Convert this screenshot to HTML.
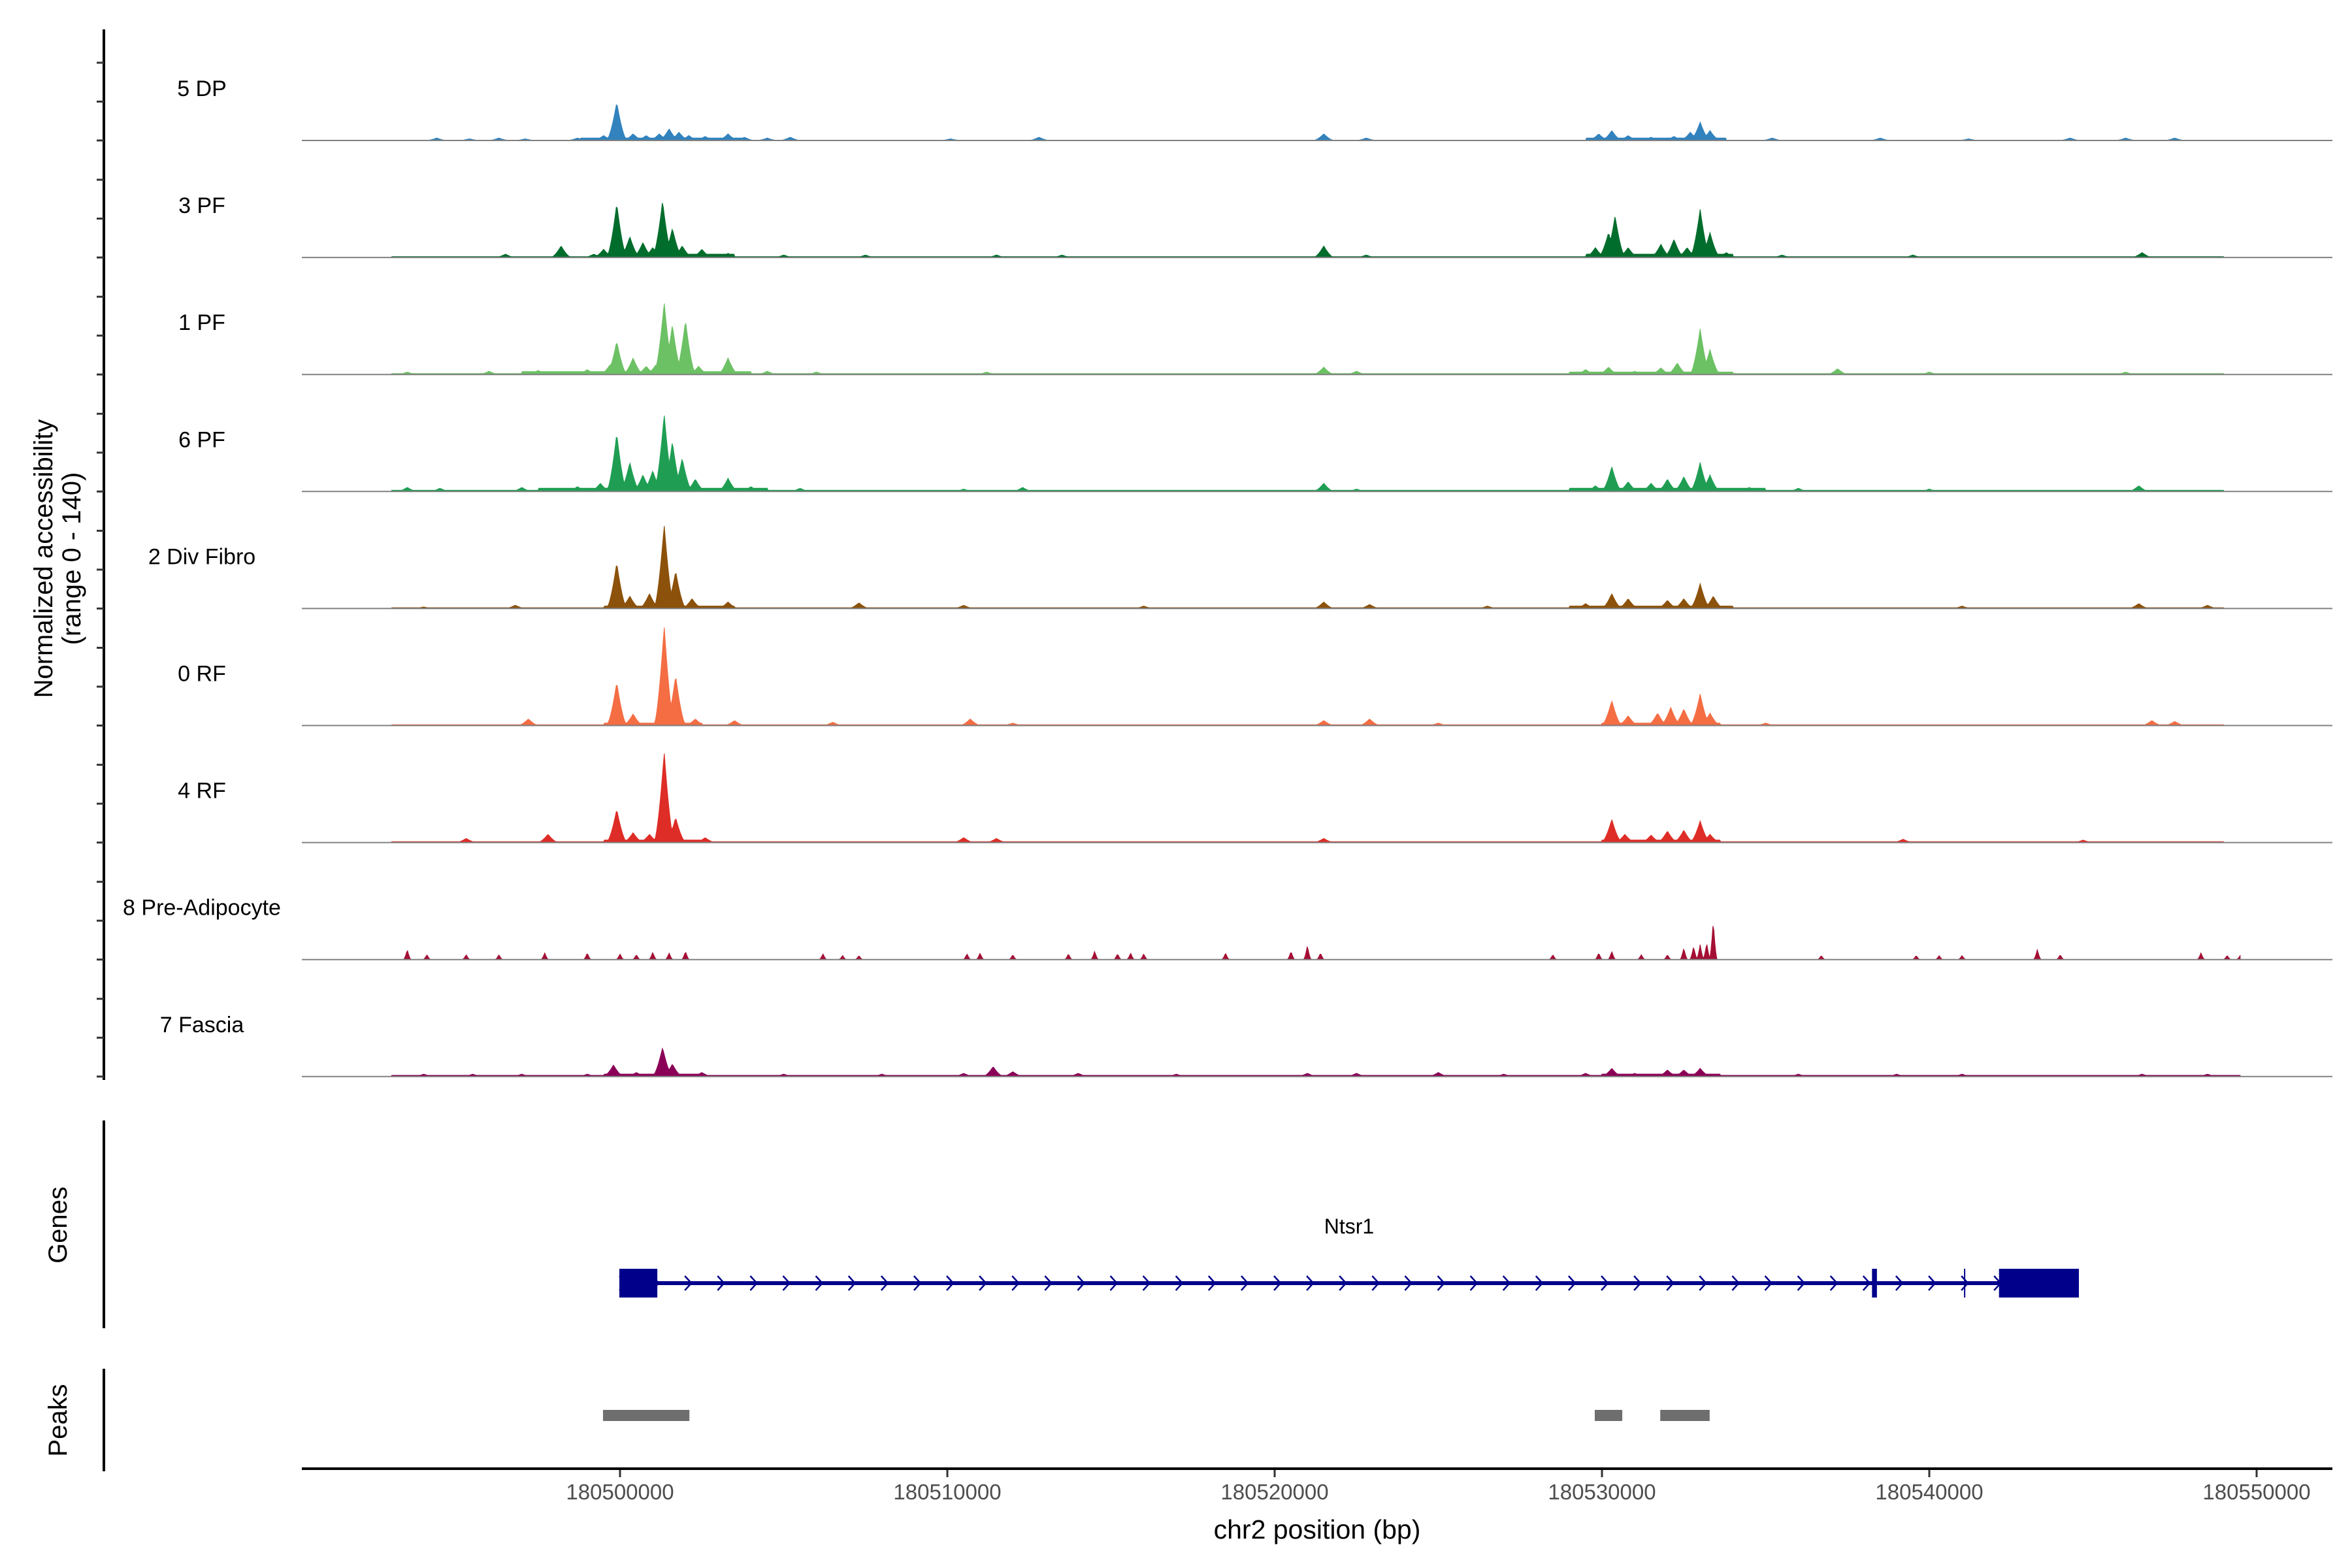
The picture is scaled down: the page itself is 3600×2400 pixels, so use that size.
<!DOCTYPE html>
<html><head><meta charset="utf-8"><style>
html,body{margin:0;padding:0;background:#fff;}
svg{display:block;font-family:"Liberation Sans",sans-serif;}
</style></head><body>
<svg id="chart" width="3600" height="2400" viewBox="0 0 3600 2400" xmlns="http://www.w3.org/2000/svg"></svg>
<script>
// ---- data ----
const trackNames = ["5 DP","3 PF","1 PF","6 PF","2 Div Fibro","0 RF","4 RF","8 Pre-Adipocyte","7 Fascia"];
const trackColors = ["#3182bd","#006d2c","#6cc164","#1f9e53","#8c510a","#f46d43","#de2d26","#a50f35","#8b0057"];
// peaks: [kb offset from 180500000, normalized value]
const peaks5DP = [[-5.6,3],[-4.6,2],[-3.7,3],[-2.9,2],[-1.3,3],[-0.5,6],[-0.1,46],[0.4,8],[0.8,6],[1.2,8],[1.5,14],[1.8,10],[2.1,6],[2.6,5],[3.3,8],[3.8,4],[4.5,3],[5.2,4],[10.1,2],[12.8,4],[21.5,8],[22.8,3],[29.9,8],[30.3,12],[30.8,6],[31.5,4],[32.2,5],[32.7,10],[33.0,22],[33.3,12],[35.2,3],[38.5,3],[41.2,2],[44.3,3],[46.0,3],[47.5,3]];
const peaks3PF = [[-3.5,4],[-1.8,14],[-0.8,4],[-0.5,10],[-0.1,65],[0.3,25],[0.7,18],[1.0,12],[1.3,68],[1.6,35],[1.9,14],[2.5,10],[3.3,5],[5.0,3],[7.5,3],[11.5,3],[13.5,3],[21.5,14],[22.8,3],[29.8,12],[30.2,30],[30.4,50],[30.8,12],[31.8,16],[32.2,22],[32.6,12],[33.0,58],[33.3,30],[33.8,6],[35.5,3],[39.5,3],[46.5,6]];
const peaks1PF = [[-6.5,3],[-4.0,4],[-2.5,5],[-1.0,6],[-0.3,12],[-0.1,40],[0.4,20],[0.8,10],[1.1,12],[1.35,87],[1.6,60],[2.0,65],[2.4,10],[3.3,20],[4.5,4],[6.0,3],[11.2,3],[21.5,9],[22.5,4],[29.5,6],[30.2,9],[31.0,4],[31.8,8],[32.3,14],[33.0,55],[33.3,30],[37.2,7],[40,3],[46,3]];
const peaks6PF = [[-6.5,5],[-5.5,4],[-3.0,5],[-1.3,6],[-0.6,10],[-0.1,70],[0.3,35],[0.7,20],[1.0,25],[1.35,93],[1.6,60],[1.9,40],[2.3,15],[3.3,16],[4.0,6],[5.5,4],[10.5,3],[12.3,5],[21.5,10],[22.5,3],[29.8,7],[30.3,30],[30.8,12],[31.5,10],[32.0,15],[32.5,18],[33.0,35],[33.3,20],[34.5,5],[36.0,4],[40.0,3],[46.4,7]];
const peaksDiv = [[-6,2],[-3.2,4],[-0.1,55],[0.3,15],[0.9,18],[1.35,101],[1.7,45],[2.2,12],[3.3,8],[7.3,7],[10.5,4],[16,3],[21.5,8],[22.9,5],[26.5,3],[29.5,6],[30.3,18],[30.8,12],[32.0,10],[32.5,12],[33.0,30],[33.4,15],[41.0,3],[46.4,6],[48.5,4]];
const peaks0RF = [[-2.8,8],[-0.1,52],[0.4,14],[1.35,120],[1.7,60],[2.3,8],[3.5,6],[6.5,4],[10.7,8],[12,3],[21.5,6],[22.9,8],[25,3],[30.3,30],[30.8,12],[31.7,15],[32.1,22],[32.5,20],[33.0,38],[33.3,15],[35,3],[46.8,6],[47.5,5]];
const peaks4RF = [[-4.7,5],[-2.2,10],[-0.1,40],[0.4,12],[0.9,10],[1.35,109],[1.7,30],[2.6,6],[10.5,6],[11.5,5],[21.5,5],[30.3,28],[30.7,10],[31.5,9],[32.0,14],[32.5,15],[33.0,26],[33.3,10],[39.2,4],[44.7,3]];
const peaksPreAd = [[-6.5,12],[-5.9,6],[-4.7,6],[-3.7,6],[-2.3,8],[-1.0,8],[0,7],[0.5,6],[1.0,9],[1.5,8],[2.0,10],[6.2,7],[6.8,5],[7.3,5],[10.6,7],[11.0,8],[12.0,6],[13.7,7],[14.5,10],[15.2,7],[15.6,8],[16.0,7],[18.5,8],[20.5,10],[21.0,17],[21.4,8],[28.5,6],[29.9,8],[30.3,10],[31.2,6],[32.0,6],[32.5,14],[32.8,16],[33.0,18],[33.2,20],[33.4,47],[36.7,5],[39.6,5],[40.3,5],[41.0,5],[43.3,12],[44,6],[48.3,8],[49.1,5],[49.5,5]];
const peaksFascia = [[-6,3],[-4.5,3],[-3,3],[-1,3],[-0.2,14],[0.5,5],[1.3,35],[1.6,15],[2.5,5],[5,3],[8,3],[10.5,4],[11.4,12],[12,6],[14,4],[17,3],[21,4],[22.5,4],[25,5],[27,3],[29.5,4],[30.3,10],[31,4],[32.0,8],[32.5,8],[33.0,10],[36,3],[39,3],[41,3],[46.5,3],[48.5,3]];
// background level segments: [startKb, endKb, value]
const bg5DP = [[-1.2,3.8,3],[29.5,33.8,3]];
const bg3PF = [[-7,49,1],[-0.6,3.5,4],[29.5,34,4]];
const bg1PF = [[-7,49,1.2],[-3,4,3.5],[29,34,3]];
const bg6PF = [[-7,49,1.5],[-2.5,4.5,4],[29,35,4]];
const bgDiv = [[-7,49,1],[-0.5,3.5,3],[29,34,3]];
const bg0RF = [[-7,49,1],[-0.5,2.5,3],[30,33.6,3]];
const bg4RF = [[-7,49,1],[-0.5,2.5,3],[30,33.6,3]];
const bgPreAd = [];
const bgFascia = [[-7,49.5,1.5],[-0.5,2.5,3],[30,33.6,3]];
const trackPeaks = [peaks5DP,peaks3PF,peaks1PF,peaks6PF,peaksDiv,peaks0RF,peaks4RF,peaksPreAd,peaksFascia];
const trackBg = [bg5DP,bg3PF,bg1PF,bg6PF,bgDiv,bg0RF,bg4RF,bgPreAd,bgFascia];
const trackExtent = [[-7,49],[-7,49],[-7,49],[-7,49],[-7,49],[-7,49],[-7,49],[-7,49.5],[-7,49.5]];
const xTicks = [180500000,180510000,180520000,180530000,180540000,180550000];
const geneExons = [[-0.02,1.14],[38.25,38.4],[42.13,44.57]];
const geneSpan = [-0.02,44.57];
const regionPeaks = [[-0.52,2.12],[29.78,30.62],[31.78,33.29]];

// ---- scales ----
const NS="http://www.w3.org/2000/svg";
const svg=document.getElementById('chart');
const X0=949, PX_PER_KB=50.1;
function xs(kb){return X0+kb*PX_PER_KB;}
const LEFT=462, RIGHT=3570;
const BASE0=215, STEP=179.1, YMAX=140, TRACK_H=178;
function ys(i,v){return BASE0+i*STEP - v/YMAX*TRACK_H;}
function mk(tag,attrs,parent){const e=document.createElementNS(NS,tag);for(const k in attrs)e.setAttribute(k,attrs[k]);(parent||svg).appendChild(e);return e;}

let a=mk('line',{x1:159,y1:45,x2:159,y2:1653,stroke:'#000','stroke-width':4});



trackNames.forEach((name,i)=>{
  const base=BASE0+i*STEP;
  const g=mk('g',{});
  
  
  for(let k=0;k<3;k++){
    const t=mk('line',{x1:148,x2:159,y1:base-k*59.5,y2:base-k*59.5,stroke:'#333','stroke-width':3},g);
    
    
  }
  const w = i===7?0.12:0.32;
  const pk=trackPeaks[i], bgs=trackBg[i];
  const ext=trackExtent[i];
  let d='M'+xs(ext[0]).toFixed(1)+','+base;
  for(let px=xs(ext[0]);px<=xs(ext[1]);px+=1.5){
    const kb=(px-X0)/PX_PER_KB;
    let v=0;
    for(const b of bgs){ if(kb>=b[0]&&kb<=b[1]) v=Math.max(v,b[2]); }
    for(const p of pk){const f=1-Math.abs(kb-p[0])/w; if(f>0) v=Math.max(v,p[1]*Math.pow(f,1.6));}
    d+=' L'+px.toFixed(1)+','+ys(i,v).toFixed(1);
  }
  d+=' L'+xs(ext[1]).toFixed(1)+','+base+' Z';
  const area=mk('path',{d:d,fill:trackColors[i],stroke:trackColors[i],'stroke-width':1},g);
  
  
  const bl=mk('line',{x1:LEFT,x2:RIGHT,y1:base,y2:base,stroke:'#808080','stroke-width':2},g);
  
  
  const lab=mk('text',{x:309,y:base-68,'text-anchor':'middle','font-size':34,fill:'#000'},g);
  lab.textContent=name;
  
  
});

let yt=mk('text',{transform:'translate(80,855) rotate(-90)','text-anchor':'middle','font-size':40,fill:'#000'});
yt.textContent='Normalized accessibility';


let yt2=mk('text',{transform:'translate(123,855) rotate(-90)','text-anchor':'middle','font-size':40,fill:'#000'});
yt2.textContent='(range 0 - 140)';



let ga=mk('line',{x1:159,y1:1715,x2:159,y2:2033,stroke:'#000','stroke-width':4});


let gt=mk('text',{transform:'translate(102,1875) rotate(-90)','text-anchor':'middle','font-size':40,fill:'#000'});
gt.textContent='Genes';


const GY=1964;
const gg=mk('g',{});


mk('line',{x1:xs(geneSpan[0]),x2:xs(geneSpan[1]),y1:GY,y2:GY,stroke:'#00008b','stroke-width':6},gg);
for(let kb=geneSpan[0]+0.1;kb<geneSpan[1]-2;kb+=1){
  const cx=xs(kb);
  const ch=mk('path',{d:`M${cx-5},${GY-11} L${cx+5},${GY} L${cx-5},${GY+11}`,fill:'none',stroke:'#00008b','stroke-width':2.5},gg);
  
  
}
geneExons.forEach(e=>{
  const r=mk('rect',{x:xs(e[0]),y:GY-22,width:Math.max(5,xs(e[1])-xs(e[0])),height:44,fill:'#00008b'},gg);
  
  
});
mk('line',{x1:xs(41.08),x2:xs(41.08),y1:GY-22,y2:GY+22,stroke:'#00008b','stroke-width':2},gg);
let gl=mk('text',{x:2065,y:1888,'text-anchor':'middle','font-size':32,fill:'#000'},gg);
gl.textContent='Ntsr1';



let pa=mk('line',{x1:159,y1:2095,x2:159,y2:2252,stroke:'#000','stroke-width':4});


let pt=mk('text',{transform:'translate(102,2174) rotate(-90)','text-anchor':'middle','font-size':40,fill:'#000'});
pt.textContent='Peaks';


regionPeaks.forEach(p=>{
  const r=mk('rect',{x:xs(p[0]),y:2158,width:xs(p[1])-xs(p[0]),height:17,fill:'#6e6e6e'});
  
  
});

let xa=mk('line',{x1:LEFT,x2:RIGHT,y1:2248,y2:2248,stroke:'#000','stroke-width':4});


xTicks.forEach(t=>{
  const x=xs((t-180500000)/1000);
  const tk=mk('line',{x1:x,x2:x,y1:2250,y2:2261,stroke:'#333','stroke-width':3});
  
  
  const tl=mk('text',{x:x,y:2295,'text-anchor':'middle','font-size':33,fill:'#4d4d4d'});
  tl.textContent=String(t);
  
  
});
let xt=mk('text',{x:2016,y:2355,'text-anchor':'middle','font-size':41,fill:'#000'});
xt.textContent='chr2 position (bp)';


</script>
</body></html>
